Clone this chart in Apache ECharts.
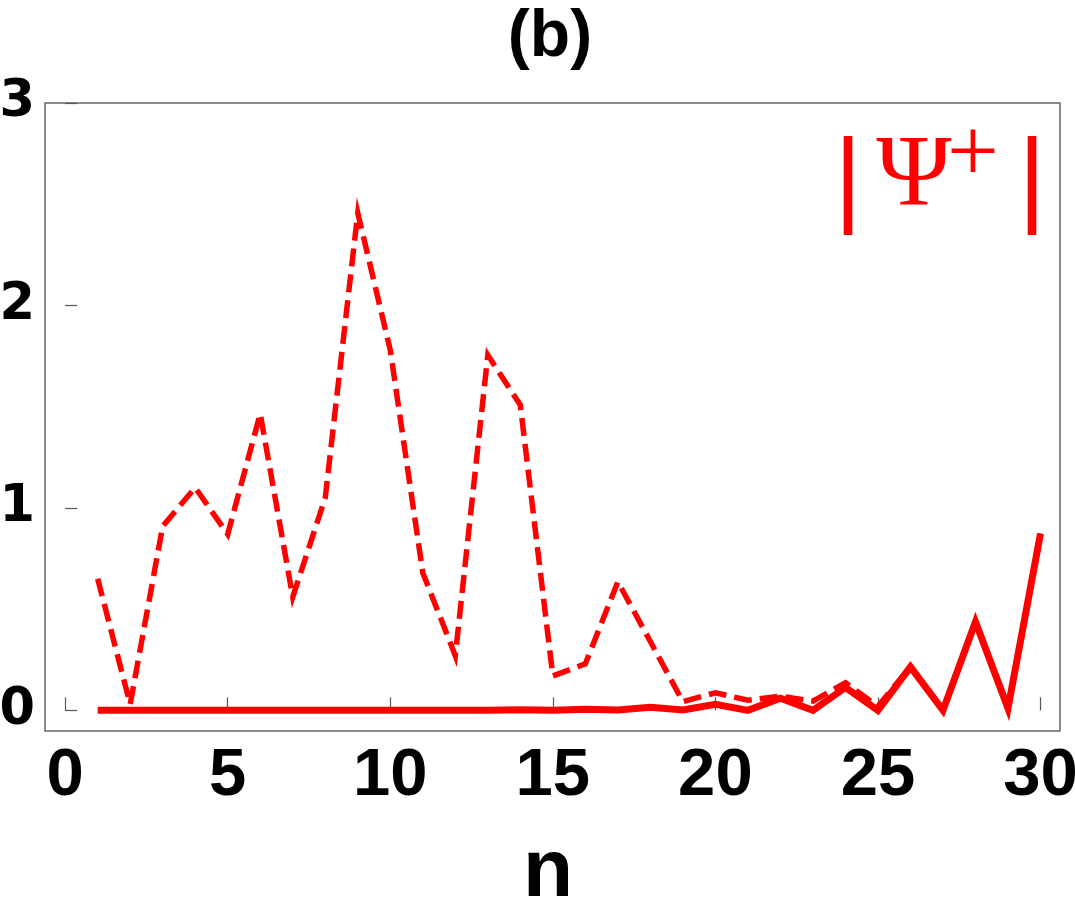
<!DOCTYPE html>
<html>
<head>
<meta charset="utf-8">
<script src="https://cdn.jsdelivr.net/npm/echarts@6/dist/echarts.min.js"></script>
<style>
html,body{margin:0;padding:0;background:#fff;}
#chart{width:1075px;height:904px;}
</style>
</head>
<body>
<div id="chart"></div>
<script>
// n = 1..30
const nValues = [1,2,3,4,5,6,7,8,9,10,11,12,13,14,15,16,17,18,19,20,21,22,23,24,25,26,27,28,29,30];
const dashedValues = [0.65,0.03,0.91,1.10,0.87,1.465,0.56,1.05,2.457,1.78,0.68,0.27,1.755,1.508,0.17,0.23,0.635,0.34,0.043,0.087,0.05,0.07,0.046,0.136,0.02,0.215,0.0,0.437,0.01,0.873];
const solidValues = [0,0,0,0,0,0,0,0,0,0,0,0,0,0.003,0,0.005,0.002,0.015,0.002,0.03,0,0.06,0,0.113,0,0.215,0,0.437,0.01,0.873];
const xTicks = [0,5,10,15,20,25,30];
const yTicks = [0,1,2,3];
const titleText = '(b)';
const xName = 'n';

const chart = echarts.init(document.getElementById('chart'), null, {renderer:'canvas'});
const toPairs = (xs, ys) => xs.map((x,i)=>[x, ys[i]]);
const option = {
  backgroundColor:'#fff',
  animation:false,
  grid:{left:45, top:103, right:15, bottom:173, containLabel:false, outerBoundsMode:'none', show:true, borderColor:'#666', borderWidth:1.5, backgroundColor:'transparent'},
  xAxis:{
    type:'value', min:-0.62, max:30.6,
    axisLine:{show:false},
    splitLine:{show:false},
    axisTick:{show:true, inside:true, length:13, customValues:xTicks, lineStyle:{color:'#555', width:1.2}},
    axisLabel:{customValues:xTicks, margin:12, fontFamily:'Liberation Sans', fontWeight:'bold', fontSize:67, color:'#000'}
  },
  yAxis:{
    type:'value', min:-0.102, max:3,
    axisLine:{show:false},
    splitLine:{show:false},
    axisTick:{show:true, inside:true, length:12, customValues:yTicks, lineStyle:{color:'#555', width:1.2}},
    axisLabel:{customValues:yTicks, margin:10, fontFamily:'DejaVu Sans', fontWeight:'bold', fontSize:51, color:'#000'}
  },
  series:[
    {type:'line', data:toPairs(nValues, solidValues), symbol:'none', lineStyle:{color:'#ff0000', width:7, join:'miter'}, z:2},
    {type:'line', data:toPairs(nValues, dashedValues), symbol:'none', lineStyle:{color:'#ff0000', width:5.5, type:[18,8], join:'miter'}, z:3}
  ],
  graphic:[
    {type:'text', x:550, y:38, style:{text:titleText, font:'bold 66px "Liberation Sans"', fill:'#000', align:'center', verticalAlign:'middle'}},
    {type:'text', x:548, y:873, style:{text:xName, font:'bold 82px "Liberation Sans"', fill:'#000', align:'center', verticalAlign:'middle'}},
    {type:'text', x:848, y:184, style:{text:'|', font:'106px "Liberation Sans"', fill:'#ff0000', align:'center', verticalAlign:'middle'}},
    {type:'text', x:914, y:178, style:{text:'Ψ', font:'102px "Liberation Serif"', fill:'#ff0000', align:'center', verticalAlign:'middle'}},
    {type:'text', x:973, y:157, style:{text:'+', font:'92px "Liberation Serif"', fill:'#ff0000', align:'center', verticalAlign:'middle'}},
    {type:'text', x:1032, y:184, style:{text:'|', font:'106px "Liberation Sans"', fill:'#ff0000', align:'center', verticalAlign:'middle'}}
  ]
};
chart.setOption(option);
</script>
</body>
</html>
